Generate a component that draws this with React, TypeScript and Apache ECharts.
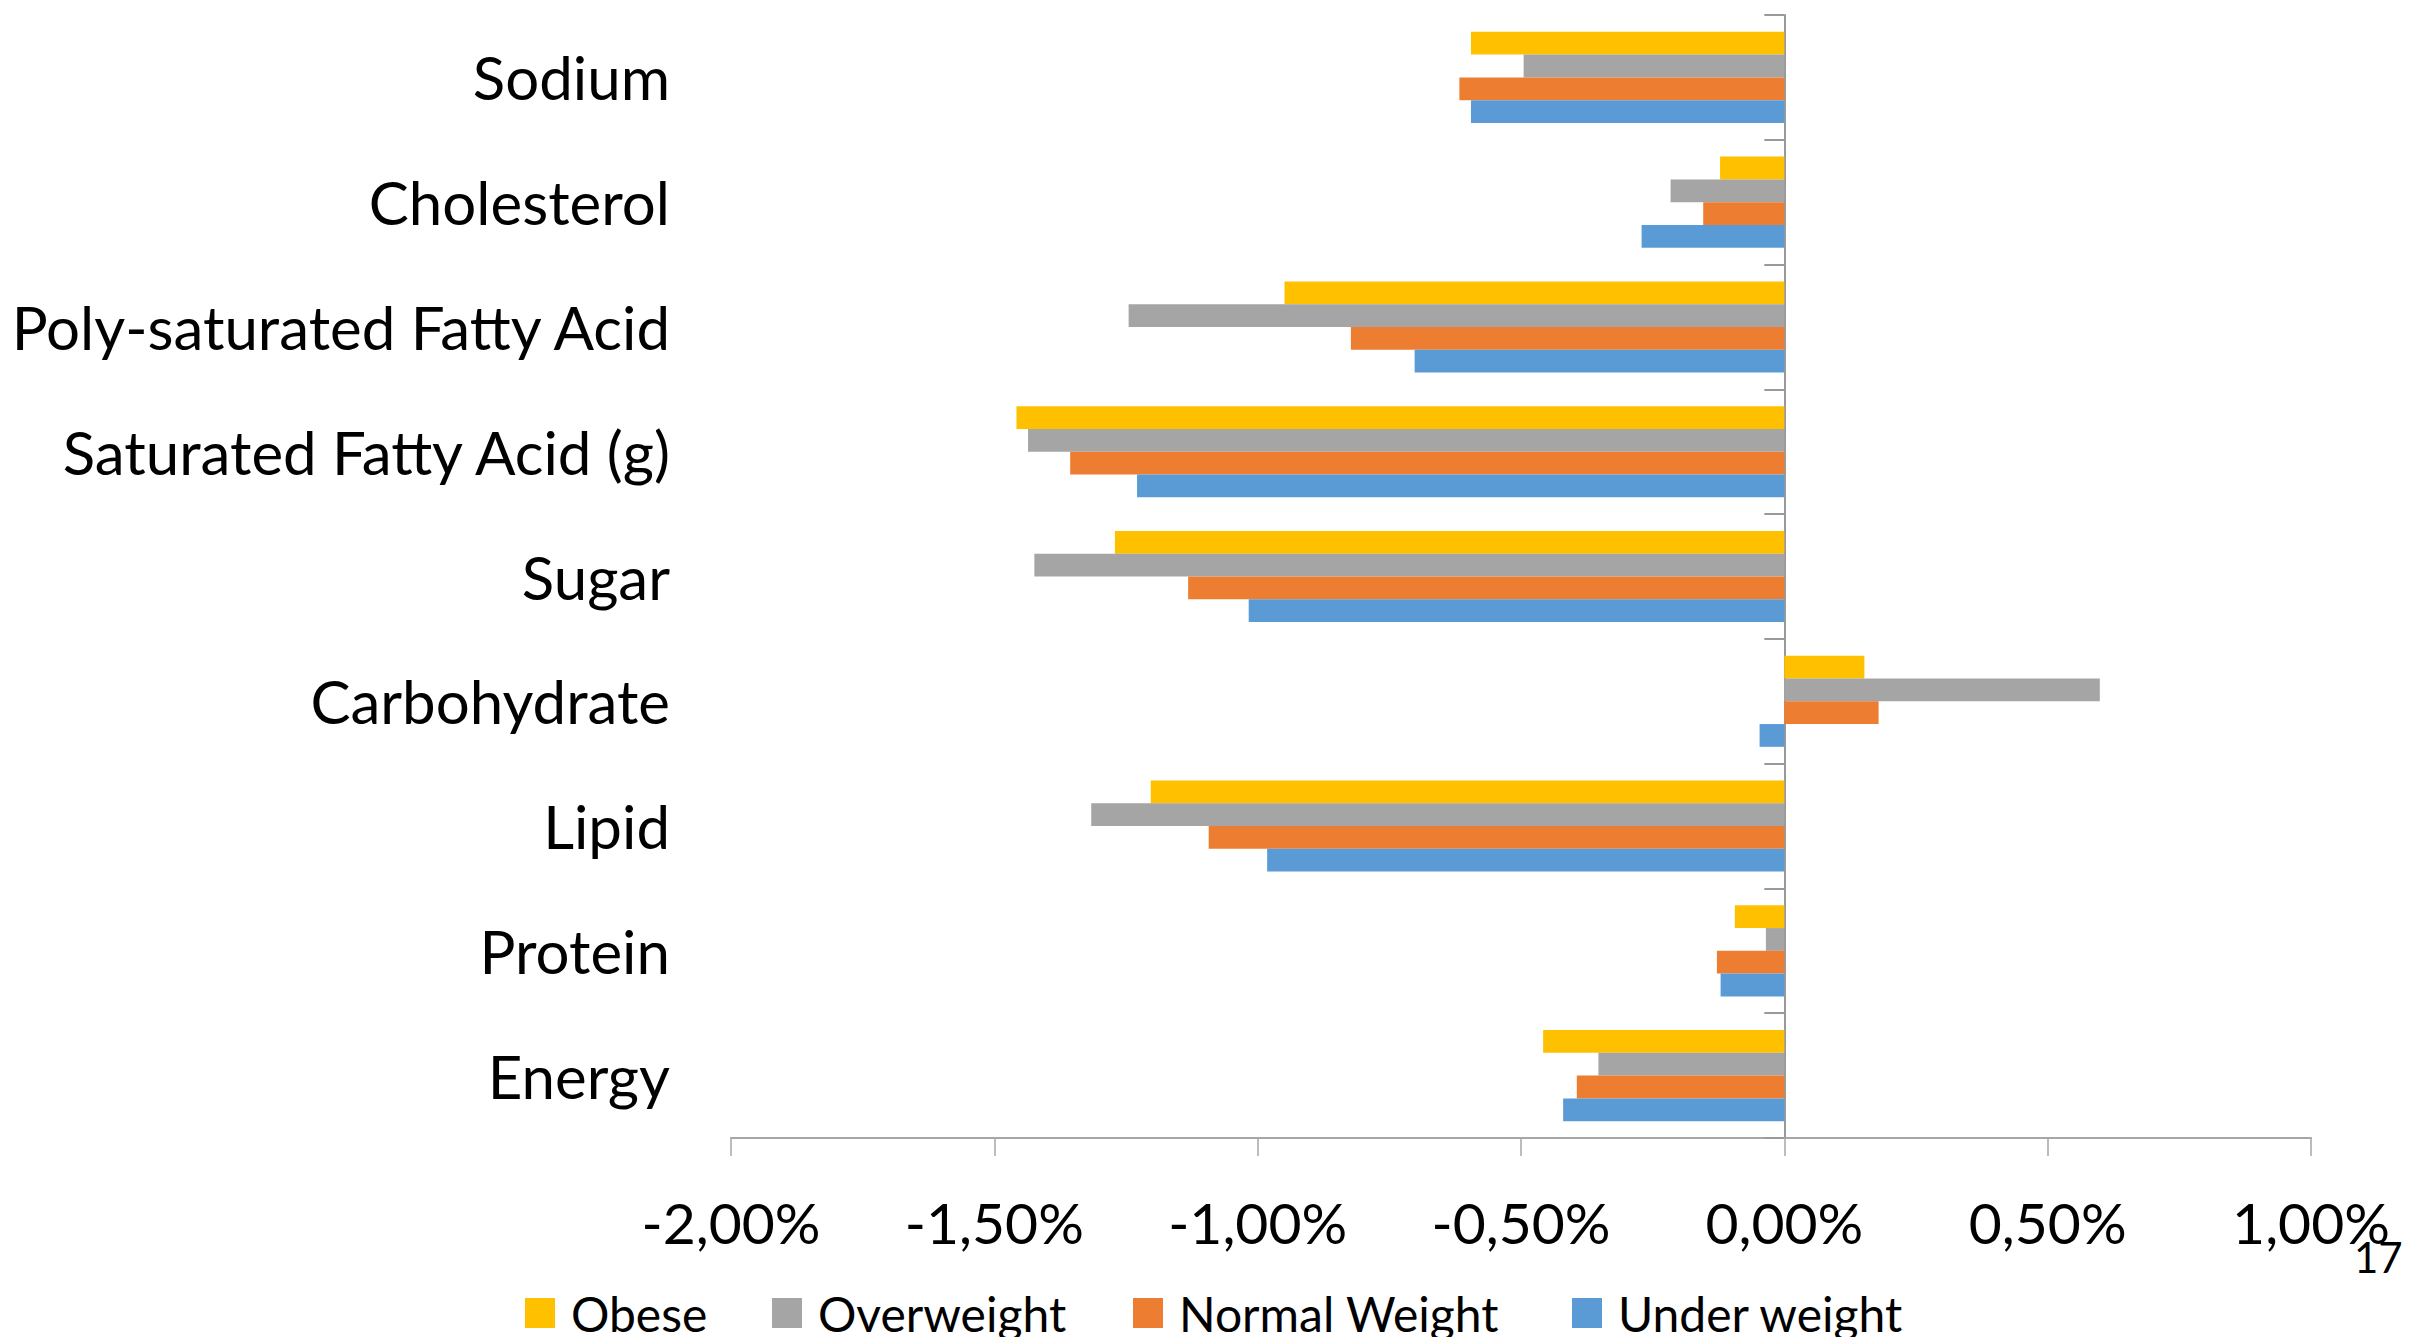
import React, { useEffect, useRef } from "react";
import * as echarts from "echarts";

// Nutrient categories, listed from the bottom of the chart to the top
const categories = [
  "Energy",
  "Protein",
  "Lipid",
  "Carbohydrate",
  "Sugar",
  "Saturated Fatty Acid (g)",
  "Poly-saturated Fatty Acid",
  "Cholesterol",
  "Sodium",
];

// Percentage change per weight group (in %)
const obese = [-0.458, -0.094, -1.203, 0.152, -1.271, -1.458, -0.949, -0.122, -0.595];
const overweight = [-0.353, -0.035, -1.316, 0.599, -1.424, -1.436, -1.245, -0.216, -0.495];
const normalWeight = [-0.394, -0.128, -1.093, 0.179, -1.132, -1.356, -0.823, -0.154, -0.617];
const underWeight = [-0.42, -0.121, -0.982, -0.047, -1.017, -1.229, -0.702, -0.271, -0.595];

const seriesNames = ["Obese", "Overweight", "Normal Weight", "Under weight"];
const seriesValues = [obese, overweight, normalWeight, underWeight];
const seriesColors = ["#FFC000", "#A5A5A5", "#ED7D31", "#5B9BD5"];

// Legend entries placed individually along the bottom edge
const legendLefts = [525, 772, 1133, 1572];

const FONT = "Lato";

export default function App() {
  const ref = useRef<HTMLDivElement>(null);

  useEffect(() => {
    if (!ref.current) return;
    const chart = echarts.init(ref.current, undefined, { renderer: "svg" });

    const fmt = (v: number) => v.toFixed(2).replace(".", ",") + "%";

    chart.setOption({
      animation: false,
      backgroundColor: "#ffffff",
      grid: {
        left: 731,
        right: 116,
        top: 15,
        bottom: 199,
        containLabel: false,
        outerBoundsMode: "none",
      },
      xAxis: {
        type: "value",
        min: -2,
        max: 1,
        interval: 0.5,
        axisLine: { show: true, onZero: false, lineStyle: { color: "#A6A6A6", width: 2 } },
        axisTick: { show: true, length: 18, lineStyle: { color: "#A6A6A6", width: 1.5 } },
        splitLine: { show: false },
        axisLabel: {
          formatter: fmt,
          fontFamily: FONT,
          fontSize: 57,
          color: "#000000",
          margin: 55,
        },
      },
      yAxis: [
        {
          type: "category",
          data: categories,
          axisLine: { show: false, onZero: false },
          axisTick: { show: false },
          axisLabel: {
            fontFamily: FONT,
            fontSize: 60,
            color: "#000000",
            margin: 61,
            padding: [0, 0, 6, 0],
          },
        },
        {
          type: "category",
          data: categories,
          position: "left",
          axisLine: { show: true, onZero: true, lineStyle: { color: "#999999", width: 2 } },
          axisTick: { show: true, length: 20, inside: false, lineStyle: { color: "#999999", width: 2 } },
          axisLabel: { show: false },
          splitLine: { show: false },
        },
      ],
      legend: seriesNames.map((name, i) => ({
        data: [{ name, icon: "rect" }],
        left: legendLefts[i],
        top: 1289,
        padding: 0,
        itemWidth: 30,
        itemHeight: 30,
        selectedMode: false,
        textStyle: {
          fontFamily: FONT,
          fontSize: 48,
          color: "#000000",
          padding: [0, 0, 0, 11],
        },
      })),
      series: seriesNames.map((name, i) => ({
        name,
        type: "bar",
        yAxisIndex: 0,
        data: seriesValues[i],
        barGap: "0%",
        barCategoryGap: "27%",
        itemStyle: { color: seriesColors[i] },
      })),
      graphic: [
        {
          type: "text",
          left: 2354,
          top: 1236,
          style: { text: "17", fontFamily: FONT, fontSize: 42, fill: "#000000" },
        },
      ],
    });

    return () => chart.dispose();
  }, []);

  return (
    <div
      ref={ref}
      style={{ position: "fixed", left: 0, top: 0, width: 2427, height: 1337, background: "#fff" }}
    />
  );
}
